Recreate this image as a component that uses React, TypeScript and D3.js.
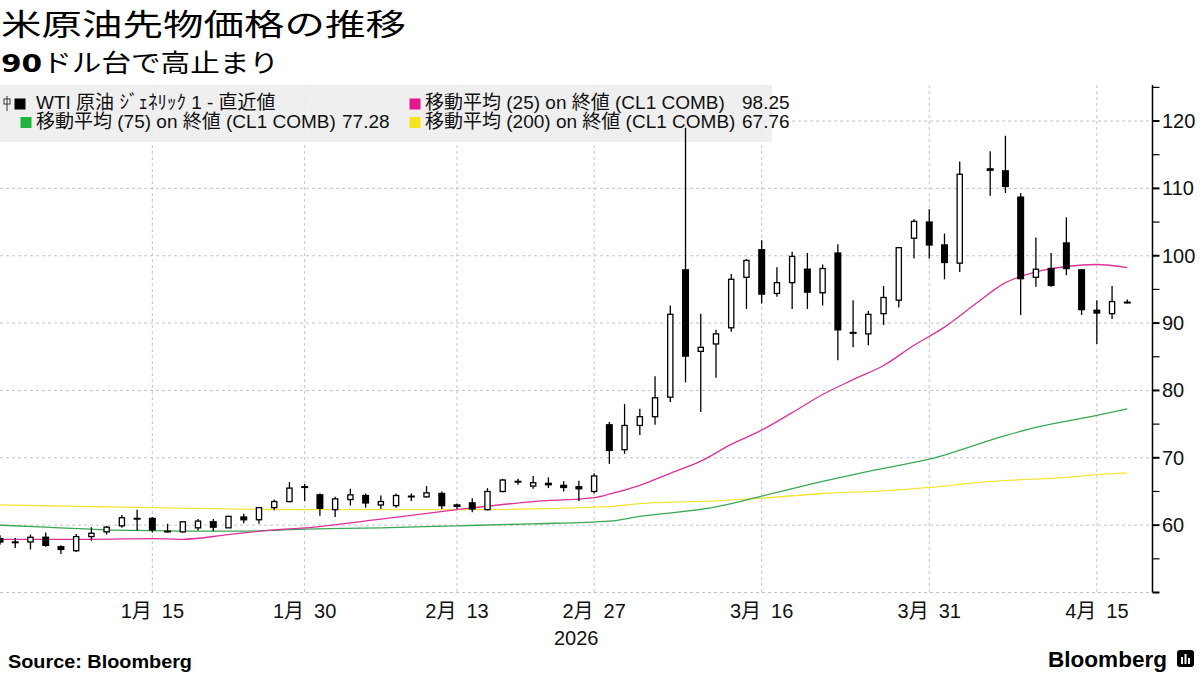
import React from 'react';
import * as d3 from 'd3';

// trading days on the axis (Apr 3 is an empty slot)
const dates = [
  '2025-12-31',
  '2026-01-02', '2026-01-05', '2026-01-06', '2026-01-07', '2026-01-08', '2026-01-09',
  '2026-01-12', '2026-01-13', '2026-01-14', '2026-01-15', '2026-01-16',
  '2026-01-20', '2026-01-21', '2026-01-22', '2026-01-23',
  '2026-01-26', '2026-01-27', '2026-01-28', '2026-01-29', '2026-01-30',
  '2026-02-02', '2026-02-03', '2026-02-04', '2026-02-05', '2026-02-06',
  '2026-02-09', '2026-02-10', '2026-02-11', '2026-02-12', '2026-02-13',
  '2026-02-17', '2026-02-18', '2026-02-19', '2026-02-20',
  '2026-02-23', '2026-02-24', '2026-02-25', '2026-02-26', '2026-02-27',
  '2026-03-02', '2026-03-03', '2026-03-04', '2026-03-05', '2026-03-06',
  '2026-03-09', '2026-03-10', '2026-03-11', '2026-03-12', '2026-03-13',
  '2026-03-16', '2026-03-17', '2026-03-18', '2026-03-19', '2026-03-20',
  '2026-03-23', '2026-03-24', '2026-03-25', '2026-03-26', '2026-03-27',
  '2026-03-30', '2026-03-31', '2026-04-01', '2026-04-02', '2026-04-03',
  '2026-04-06', '2026-04-07', '2026-04-08', '2026-04-09', '2026-04-10',
  '2026-04-13', '2026-04-14', '2026-04-15', '2026-04-16', '2026-04-17',
];

const openV = [
  58.1,
  57.6, 57.5, 58.3, 56.9, 56.2, 58.3,
  59.0, 59.9, 61.1, 61.1, 59.2,
  59.0, 59.6, 60.6, 59.6,
  61.3, 60.8, 62.6, 63.5, 65.8,
  64.6, 62.3, 63.8, 64.5, 63.0,
  62.9, 64.4, 64.2, 64.8, 63.1,
  63.4, 62.3, 65.0, 66.6,
  65.8, 66.3, 66.0, 65.8, 65.0,
  75.0, 71.2, 74.8, 76.1, 79.0,
  98.0, 85.8, 86.9, 89.3, 96.8,
  101.0, 94.4, 96.0, 98.1, 94.5,
  100.5, 88.7, 88.4, 91.4, 93.4,
  102.6, 105.1, 101.7, 98.9, null,
  113.0, 112.7, 108.8, 96.8, 98.2,
  102.0, 98.0, 92.0, 91.4, 93.2,
];
const highV = [
  58.5,
  58.1, 58.6, 58.9, 57.0, 58.7, 59.7,
  59.9, 61.5, 62.3, 61.2, 60.2,
  60.5, 60.9, 60.9, 61.4,
  61.7, 62.7, 63.8, 66.4, 66.1,
  64.7, 64.2, 65.4, 64.7, 64.4,
  64.7, 64.7, 65.8, 65.0, 63.2,
  64.0, 65.5, 66.9, 66.9,
  67.3, 67.1, 66.5, 66.6, 67.7,
  75.3, 78.0, 77.3, 82.1, 92.6,
  119.0, 91.4, 89.0, 97.3, 99.5,
  102.3, 98.3, 100.6, 100.4, 98.7,
  101.7, 93.4, 91.8, 95.5, 101.3,
  105.4, 106.9, 103.3, 114.0, null,
  115.5, 117.8, 109.3, 102.7, 100.4,
  105.7, 98.0, 93.4, 95.5, 93.5,
];
const lowV = [
  57.1,
  56.6, 56.4, 56.8, 55.7, 56.0, 57.7,
  58.6, 59.6, 59.2, 58.9, 58.9,
  58.9, 59.2, 59.1, 59.6,
  60.3, 60.2, 62.2, 63.4, 63.6,
  61.4, 61.2, 62.9, 62.6, 62.4,
  62.6, 63.6, 64.1, 62.4, 62.4,
  61.9, 62.2, 64.9, 66.0,
  65.4, 65.5, 65.0, 63.6, 64.7,
  69.1, 70.6, 73.4, 74.9, 78.3,
  81.2, 76.8, 81.9, 88.7, 92.1,
  92.9, 93.9, 92.1, 92.1, 92.6,
  84.5, 86.4, 86.7, 89.7, 92.3,
  99.6, 99.6, 96.5, 97.6, null,
  108.9, 109.3, 91.2, 95.4, 95.4,
  97.1, 91.2, 86.9, 90.6, 92.9,
];
const closeV = [
  57.4,
  57.5, 58.2, 56.9, 56.3, 58.3, 58.8,
  59.7, 61.1, 61.0, 59.2, 59.1,
  60.5, 60.6, 59.6, 61.3,
  60.7, 62.6, 63.5, 65.5, 65.7,
  62.4, 63.9, 64.5, 63.2, 63.5,
  64.4, 64.3, 64.8, 62.8, 62.7,
  62.3, 65.0, 66.7, 66.4,
  66.3, 65.9, 65.5, 65.3, 67.3,
  71.0, 74.8, 76.1, 78.9, 91.3,
  85.0, 86.4, 88.4, 96.5, 99.3,
  94.2, 96.0, 99.9, 94.5, 98.1,
  88.9, 88.4, 91.3, 93.8, 101.2,
  105.1, 101.5, 98.9, 112.1, null,
  112.6, 110.2, 96.5, 98.0, 95.5,
  98.0, 91.9, 91.4, 93.2, 93.1,
];

// moving averages at sample dates
const ma25: [string, number][] = [
  ['2025-12-31', 57.9], ['2026-01-09', 57.9], ['2026-01-15', 58.0], ['2026-01-20', 57.9],
  ['2026-01-23', 58.6], ['2026-01-28', 59.3], ['2026-01-30', 59.6], ['2026-02-06', 60.9],
  ['2026-02-13', 62.3], ['2026-02-23', 63.5], ['2026-02-27', 64.1], ['2026-03-02', 64.6],
  ['2026-03-04', 65.9], ['2026-03-06', 67.7], ['2026-03-10', 69.5], ['2026-03-12', 72.0],
  ['2026-03-16', 74.1], ['2026-03-18', 76.7], ['2026-03-20', 79.4], ['2026-03-24', 81.6],
  ['2026-03-26', 83.7], ['2026-03-30', 86.7], ['2026-04-01', 89.4], ['2026-04-03', 92.8],
  ['2026-04-07', 96.0], ['2026-04-09', 97.6], ['2026-04-13', 98.4], ['2026-04-15', 98.7],
  ['2026-04-17', 98.25],
];
const ma75: [string, number][] = [
  ['2025-12-31', 60.0], ['2026-01-06', 59.7], ['2026-01-12', 59.3], ['2026-01-15', 59.2],
  ['2026-01-21', 59.1], ['2026-01-26', 59.1], ['2026-01-30', 59.4], ['2026-02-06', 59.6],
  ['2026-02-13', 59.9], ['2026-02-23', 60.2], ['2026-03-02', 60.6], ['2026-03-04', 61.3],
  ['2026-03-11', 62.7], ['2026-03-16', 64.3], ['2026-03-20', 66.5], ['2026-03-25', 68.0],
  ['2026-03-31', 69.8], ['2026-04-07', 73.3], ['2026-04-09', 74.5], ['2026-04-15', 76.3],
  ['2026-04-17', 77.28],
];
const ma200: [string, number][] = [
  ['2025-12-31', 63.0], ['2026-01-15', 62.6], ['2026-01-30', 62.3], ['2026-02-13', 62.3],
  ['2026-03-02', 62.75], ['2026-03-04', 63.2], ['2026-03-11', 63.6], ['2026-03-16', 64.0],
  ['2026-03-20', 64.7], ['2026-03-26', 65.1], ['2026-03-31', 65.6], ['2026-04-06', 66.5],
  ['2026-04-13', 67.1], ['2026-04-15', 67.5], ['2026-04-17', 67.76],
];

const tickDates = ['2026-01-15', '2026-01-30', '2026-02-13', '2026-02-27', '2026-03-16', '2026-03-31', '2026-04-15'];
const tickLabels = ['1月\u200215', '1月\u200230', '2月\u200213', '2月\u200227', '3月\u200216', '3月\u200231', '4月\u200215'];
const yTicks = [60, 70, 80, 90, 100, 110, 120];

const font = "'Liberation Sans', 'Noto Sans CJK JP', sans-serif";
const cjk = "'Noto Sans CJK JP', 'Liberation Sans', sans-serif";

const plot = { left: 0, right: 1152.5, top: 85, bottom: 592.5 };

const x = d3.scalePoint<string>().domain(dates).range([0, 1127.3]);
const y = d3.scaleLinear().domain([50, 125.35]).range([plot.bottom, plot.top]);

const maLine = d3.line<[string, number]>()
  .x(d => x(d[0]) as number)
  .y(d => y(d[1]))
  .curve(d3.curveMonotoneX);

const App = () => {
  const minor = d3.range(50, 126, 5);
  return (
    <div style={{ position: 'absolute', left: 0, top: 0 }}>
      <svg width={1200} height={675} style={{ display: 'block', background: '#fff' }}>
        <defs>
          <clipPath id="plotclip">
            <rect x={plot.left} y={plot.top} width={plot.right - plot.left} height={plot.bottom - plot.top} />
          </clipPath>
        </defs>

        {/* titles */}
        <text x={1} y={35} fontFamily={cjk} fontSize={30} fill="#000" textLength={405} lengthAdjust="spacingAndGlyphs">
          米原油先物価格の推移
        </text>
        <text x={1} y={72} fontFamily={cjk} fontSize={25} fill="#000" textLength={278} lengthAdjust="spacingAndGlyphs">
          <tspan fontFamily="'DejaVu Sans', sans-serif" fontWeight="bold">90</tspan>ドル台で高止まり
        </text>

        {/* grid */}
        <g stroke="#c4c4c4" strokeWidth={1} strokeDasharray="3,3">
          {[50, ...yTicks].map(v => (
            <line key={v} x1={plot.left} x2={plot.right} y1={y(v)} y2={y(v)} />
          ))}
          {tickDates.map(d => (
            <line key={d} x1={x(d)} x2={x(d)} y1={plot.top} y2={plot.bottom} />
          ))}
        </g>

        {/* legend background */}
        <rect x={0} y={85} width={772} height={57} fill="#ededed" fillOpacity={0.88} />

        <g clipPath="url(#plotclip)">
          <path d={maLine(ma200) || ''} fill="none" stroke="#f3e53c" strokeWidth={1.3} />
          <path d={maLine(ma75) || ''} fill="none" stroke="#3aa757" strokeWidth={1.3} />
          <path d={maLine(ma25) || ''} fill="none" stroke="#dc3298" strokeWidth={1.3} />

          {dates.map((d, i) => {
            const o = openV[i], h = highV[i], l = lowV[i], c = closeV[i];
            if (o == null || h == null || l == null || c == null) return null;
            const cx = x(d) as number;
            const up = c >= o;
            const top = y(Math.max(o, c));
            const bh = Math.max(Math.abs(y(o) - y(c)), 2);
            return (
              <g key={d}>
                <line x1={cx} x2={cx} y1={y(h)} y2={y(l)} stroke="#000" strokeWidth={1.3} />
                {up ? (
                  <rect x={cx - 2.6} y={top} width={5.2} height={bh} fill="#fff" stroke="#000" strokeWidth={1.3} />
                ) : (
                  <rect x={cx - 3.5} y={top} width={7} height={bh} fill="#000" />
                )}
              </g>
            );
          })}
        </g>

        {/* legend */}
        <g fontFamily={font} fontSize={19} fill="#111">
          <rect x={4} y={99} width={6} height={5} fill="#fff" stroke="#333" strokeWidth={1} />
          <line x1={7} x2={7} y1={96} y2={111} stroke="#333" strokeWidth={1} />
          <rect x={14.5} y={98.5} width={11} height={11} fill="#000" />
          <text x={36} y={109}>WTI 原油 ｼﾞｪﾈﾘｯｸ 1 - 直近値</text>

          <rect x={20.5} y={117} width={11} height={11} fill="#1fb33f" />
          <text x={36} y={128}>移動平均 (75) on 終値 (CL1 COMB)</text>
          <text x={342} y={128}>77.28</text>

          <rect x={409.5} y={98.5} width={11} height={11} fill="#e3178c" />
          <text x={425} y={109}>移動平均 (25) on 終値 (CL1 COMB)</text>
          <text x={742} y={109}>98.25</text>

          <rect x={409.5} y={117} width={11} height={11} fill="#f6e51c" />
          <text x={425} y={128}>移動平均 (200) on 終値 (CL1 COMB)</text>
          <text x={742} y={128}>67.76</text>
        </g>

        {/* y axis */}
        <line x1={plot.right} x2={plot.right} y1={plot.top} y2={plot.bottom} stroke="#000" strokeWidth={1.5} />
        {minor.map(v => (
          <line key={v} x1={plot.right} x2={plot.right + 7} y1={y(v)} y2={y(v)}
            stroke="#000" strokeWidth={v % 10 === 0 ? 2 : 1.2} />
        ))}
        <g fontFamily={font} fontSize={20} fill="#111">
          {yTicks.map(v => (
            <text key={v} x={1162} y={y(v)} dy="0.35em">{v}</text>
          ))}
        </g>

        {/* x axis labels */}
        <g fontFamily={font} fontSize={20} fill="#111" textAnchor="middle">
          {tickDates.map((d, i) => (
            <text key={d} x={x(d)} y={618}>{tickLabels[i]}</text>
          ))}
          <text x={(plot.left + plot.right) / 2} y={645}>2026</text>
        </g>

        {/* footer */}
        <text x={8} y={668} fontFamily={font} fontSize={19} fontWeight="bold" fill="#000" textLength={184} lengthAdjust="spacingAndGlyphs">
          Source: Bloomberg
        </text>
        <text x={1048} y={667} fontFamily={font} fontSize={22} fontWeight="bold" fill="#000" textLength={119} lengthAdjust="spacingAndGlyphs">
          Bloomberg
        </text>
        <g transform="translate(1177,650)">
          <rect x={0} y={0} width={17} height={17} rx={3} fill="#000" />
          <rect x={4} y={7} width={2} height={7} fill="#fff" />
          <rect x={7.5} y={4} width={2} height={10} fill="#fff" />
          <rect x={11} y={8} width={2} height={6} fill="#fff" />
        </g>
      </svg>
    </div>
  );
};

export default App;
